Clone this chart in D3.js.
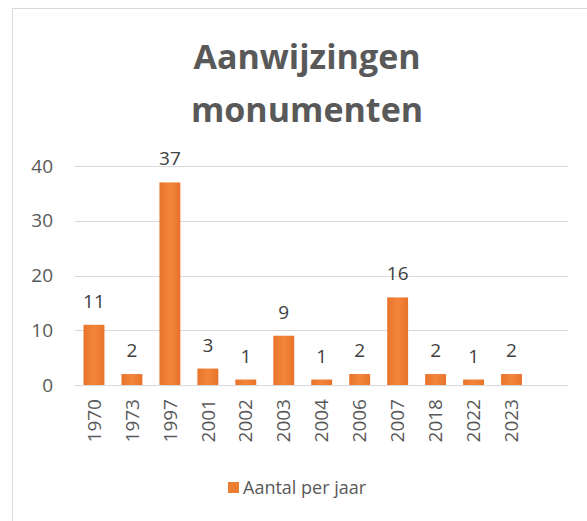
<!DOCTYPE html>
<html>
<head>
<meta charset="utf-8">
<script src="https://cdn.jsdelivr.net/npm/d3@7"></script>
<style>
  html, body { margin: 0; padding: 0; background: #fff; }
  svg { display: block; font-family: "Open Sans", sans-serif; }
</style>
</head>
<body>
<svg id="chart" width="587" height="521"></svg>
<script>
const years = ["1970", "1973", "1997", "2001", "2002", "2003", "2004", "2006", "2007", "2018", "2022", "2023"];
const counts = [11, 2, 37, 3, 1, 9, 1, 2, 16, 2, 1, 2];
const yTicks = [0, 10, 20, 30, 40];
const titleLines = ["Aanwijzingen", "monumenten"];
const seriesName = "Aantal per jaar";

const svg = d3.select("#chart");
const TEXT = "#595959";
const BAR = "#ED7D31";
const FONT = "'Open Sans', sans-serif";

// kader rond de grafiek (rechts en onder buiten beeld)
svg.append("rect")
  .attr("x", 12.5).attr("y", 8.5)
  .attr("width", 620).attr("height", 560)
  .attr("fill", "none").attr("stroke", "#d9d9d9");

const plotL = 75, plotR = 568, plotT = 166, plotB = 385;

const x = d3.scaleBand().domain(years).range([plotL, 530.5])
  .paddingInner(0.45).paddingOuter(0.225);
const y = d3.scaleLinear().domain([0, 40]).range([plotB, plotT]);

const defs = svg.append("defs");
const grad = defs.append("linearGradient").attr("id", "barGrad")
  .attr("x1", "0").attr("x2", "1").attr("y1", "0").attr("y2", "0");
grad.append("stop").attr("offset", "0%").attr("stop-color", "#e8732a");
grad.append("stop").attr("offset", "50%").attr("stop-color", "#f2863b");
grad.append("stop").attr("offset", "100%").attr("stop-color", "#e8732a");

// rasterlijnen
svg.append("g").selectAll("line").data(yTicks).join("line")
  .attr("x1", plotL).attr("x2", plotR)
  .attr("y1", d => Math.round(y(d)) + 0.5).attr("y2", d => Math.round(y(d)) + 0.5)
  .attr("stroke", "#d9d9d9").attr("stroke-width", 1);

const yAxis = svg.append("g")
  .attr("transform", `translate(${plotL - 22},0)`)
  .call(d3.axisLeft(y).tickValues(yTicks).tickSize(0).tickPadding(0));
yAxis.select(".domain").remove();
yAxis.selectAll("text").attr("fill", TEXT).attr("font-size", 19)
  .attr("font-family", FONT);

// staven
svg.append("g").selectAll("rect").data(counts).join("rect")
  .attr("x", (d, i) => x(years[i]))
  .attr("y", d => y(d))
  .attr("width", x.bandwidth())
  .attr("height", d => y(0) - y(d))
  .attr("fill", "url(#barGrad)");

// waardelabels
svg.append("g").selectAll("text").data(counts).join("text")
  .attr("x", (d, i) => x(years[i]) + x.bandwidth() / 2)
  .attr("y", d => y(d) - 17)
  .attr("text-anchor", "middle")
  .attr("font-size", 19).attr("fill", "#404040")
  .text(d => d);

// jaartallen
const xAxis = svg.append("g")
  .attr("transform", `translate(0,${plotB})`)
  .call(d3.axisBottom(x).tickSize(0).tickPadding(0));
xAxis.select(".domain").remove();
xAxis.selectAll("text")
  .attr("fill", TEXT).attr("font-size", 19)
  .attr("font-family", FONT)
  .attr("transform", "rotate(-90)")
  .attr("text-anchor", "end")
  .attr("x", -14).attr("y", 0).attr("dy", "0.35em");

// titel
svg.append("g").selectAll("text").data(titleLines).join("text")
  .attr("x", 307).attr("y", (d, i) => 69 + i * 53)
  .attr("text-anchor", "middle")
  .attr("font-size", 34).attr("font-weight", "bold").attr("fill", TEXT)
  .text(d => d);

// legenda
const lg = svg.append("g").attr("transform", "translate(228,482)");
lg.append("rect").attr("width", 11).attr("height", 11).attr("fill", BAR);
lg.append("text").attr("x", 15).attr("y", 5.5).attr("dy", "0.35em")
  .attr("font-size", 18).attr("fill", TEXT).text(seriesName);
</script>
</body>
</html>
